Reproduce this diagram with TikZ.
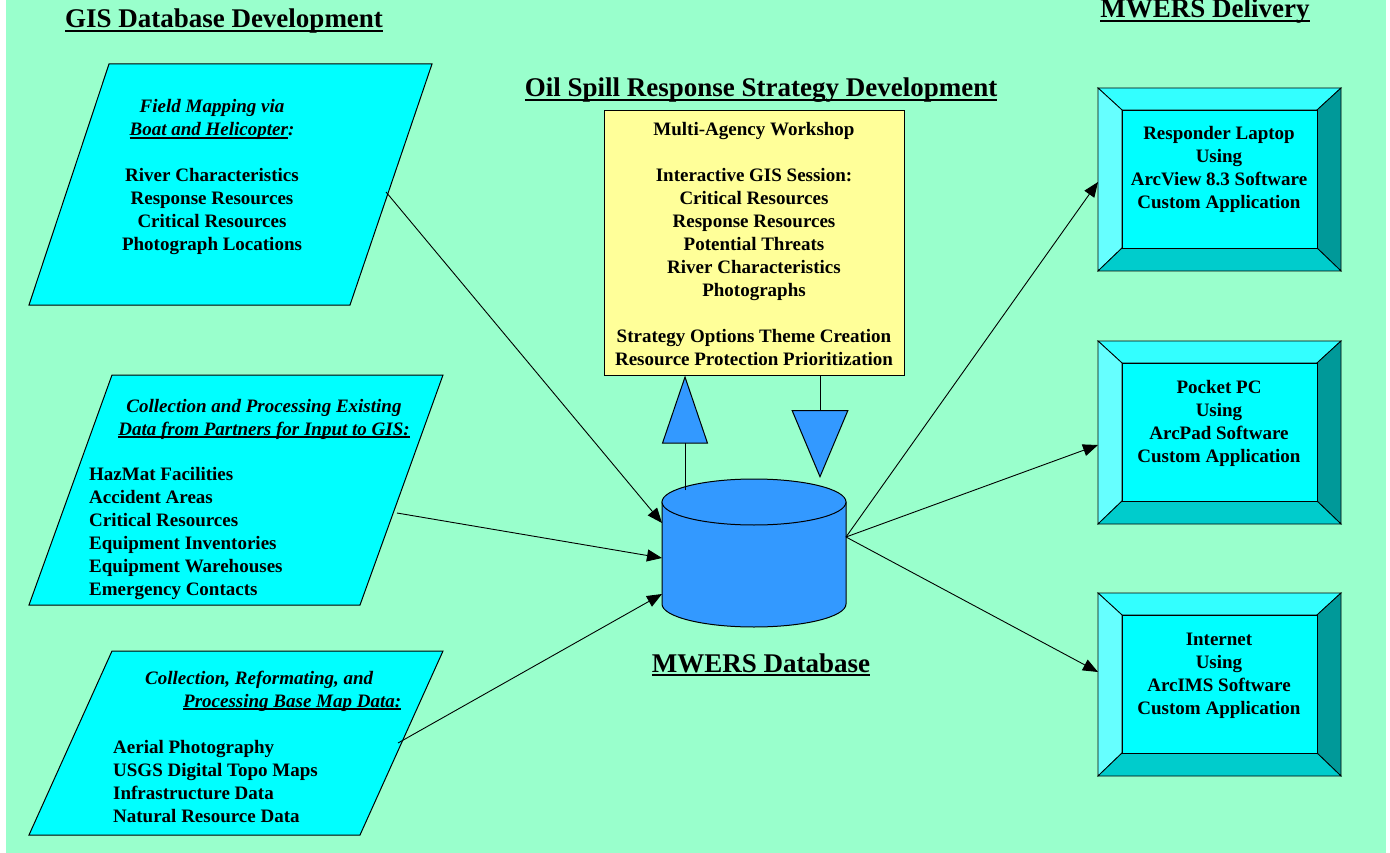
\documentclass[tikz,border=0pt]{standalone}
\usepackage{fontspec}
\setmainfont{Liberation Serif}
\usetikzlibrary{arrows.meta}

\definecolor{bg}{HTML}{99FFCC}
\definecolor{parafill}{HTML}{00FFFF}
\definecolor{work}{HTML}{FFFF99}
\definecolor{dbblue}{HTML}{3399FF}
\definecolor{bevtop}{HTML}{33FFFF}
\definecolor{bevleft}{HTML}{66FFFF}
\definecolor{bevright}{HTML}{009999}
\definecolor{bevbot}{HTML}{00CCCC}

\newsavebox\ulbox
\newcommand{\undl}[1]{\sbox\ulbox{#1}\rlap{\rule[-0.15em]{\wd\ulbox}{0.08em}}\usebox\ulbox}

\begin{document}
\begin{tikzpicture}[x=1pt, y=-1pt, font=\bfseries\fontsize{19}{23}\selectfont,
  title/.style={font=\bfseries\fontsize{27}{32}\selectfont, anchor=base, inner sep=0},
  txt/.style={align=center, anchor=base, inner sep=0},
  list/.style={align=left, anchor=base west, inner sep=0},
  para/.style={fill=parafill, draw=black, line width=1pt},
  bev/.style={draw=black, line width=0.8pt},
  link/.style={-{Triangle[length=15pt,width=12pt]}, line width=0.9pt},
  bigtip/.style={-{Triangle[length=68pt,width=#1,fill=dbblue]}, line width=1pt}]

\useasboundingbox (0,0) rectangle (1390,853);
\fill[white] (0,0) rectangle (1390,853);
\fill[bg] (6,0) rectangle (1386,853);

% titles
\node[title] (1) at (224,28) {\undl{GIS Database Development}};
\node[title] (2) at (761,97) {\undl{Oil Spill Response Strategy Development}};
\node[title] (3) at (1205,18) {\undl{MWERS Delivery}};
\node[title] (4) at (761,672) {\undl{MWERS Database}};

% GIS inputs (text nodes sit on their last baseline)
\draw[para] (109,64) -- (432,64) -- (350,305) -- (29,305) -- cycle;
\draw[para] (112,375) -- (443,375) -- (360,605) -- (29,605) -- cycle;
\draw[para] (112,651) -- (443,651) -- (360,835) -- (29,835) -- cycle;

\node[txt] (5) at (212,251) {\textit{Field Mapping via}\\\textit{\undl{Boat and Helicopter}:}\\[23pt]River Characteristics\\Response Resources\\Critical Resources\\Photograph Locations};

\node[txt] (6) at (264,435) {\textit{Collection and Processing Existing}\\\textit{\undl{Data from Partners for Input to GIS:}}};
\node[list] (7) at (89,595) {HazMat Facilities\\Accident Areas\\Critical Resources\\Equipment Inventories\\Equipment Warehouses\\Emergency Contacts};

\node[list] (8) at (145,707) {\textit{Collection, Reformating, and}\\\hspace*{38pt}\textit{\undl{Processing Base Map Data:}}};
\node[list] (9) at (113,822) {Aerial Photography\\USGS Digital Topo Maps\\Infrastructure Data\\Natural Resource Data};

% workshop
\node[draw, fill=work, line width=1pt, minimum width=300pt, minimum height=264pt, inner sep=0] (10) at (754,243) {};
\node[txt] (11) at (754,365) {Multi-Agency Workshop\\[23pt]Interactive GIS Session:\\Critical Resources\\Response Resources\\Potential Threats\\River Characteristics\\Photographs\\[23pt]Strategy Options Theme Creation\\Resource Protection Prioritization};

% database
\filldraw[fill=dbblue, line width=1pt] (662,502) -- (662,604) arc[start angle=180, end angle=0, x radius=92, y radius=23] -- (846,502) -- cycle;
\filldraw[fill=dbblue, line width=1pt] (754,502) ellipse [x radius=92, y radius=23];

\coordinate (up) at (685,490);
\coordinate (dn) at (820,478);
\draw[bigtip=46pt] (up) -- (up |- 10.south);
\draw[bigtip=57pt] (dn |- 10.south) -- (dn);

% delivery boxes
\foreach \y/\nm/\txt in {88/12/{Responder Laptop\\Using\\ArcView 8.3 Software\\Custom Application},
    341/13/{Pocket PC\\Using\\ArcPad Software\\Custom Application},
    593/14/{Internet\\Using\\ArcIMS Software\\Custom Application}} {
  \filldraw[bev, fill=bevtop] (1098,\y) -- (1341,\y) -- (1317,\y+22) -- (1122,\y+22) -- cycle;
  \filldraw[bev, fill=bevleft] (1098,\y) -- (1122,\y+22) -- (1122,\y+160) -- (1098,\y+183) -- cycle;
  \filldraw[bev, fill=bevright] (1341,\y) -- (1341,\y+183) -- (1317,\y+160) -- (1317,\y+22) -- cycle;
  \filldraw[bev, fill=bevbot] (1098,\y+183) -- (1341,\y+183) -- (1317,\y+160) -- (1122,\y+160) -- cycle;
  \filldraw[bev, fill=parafill] (1122,\y+22) rectangle (1317,\y+160);
  \node[txt] (\nm) at (1219,\y+121) {\txt};
}

% links
\coordinate (f1) at (386,192);
\coordinate (f2) at (397,513);
\coordinate (f3) at (398,743);
\coordinate (d1) at (662,523);
\coordinate (d2) at (662,558);
\coordinate (d3) at (662,594);
\coordinate (dr) at (846,537);
\coordinate (b1) at (1098,182);
\coordinate (b2) at (1098,445);
\coordinate (b3) at (1098,672);

\draw[link] (f1) -- (d1);
\draw[link] (f2) -- (d2);
\draw[link] (f3) -- (d3);
\draw[link] (dr) -- (b1);
\draw[link] (dr) -- (b2);
\draw[link] (dr) -- (b3);

\end{tikzpicture}
\end{document}
